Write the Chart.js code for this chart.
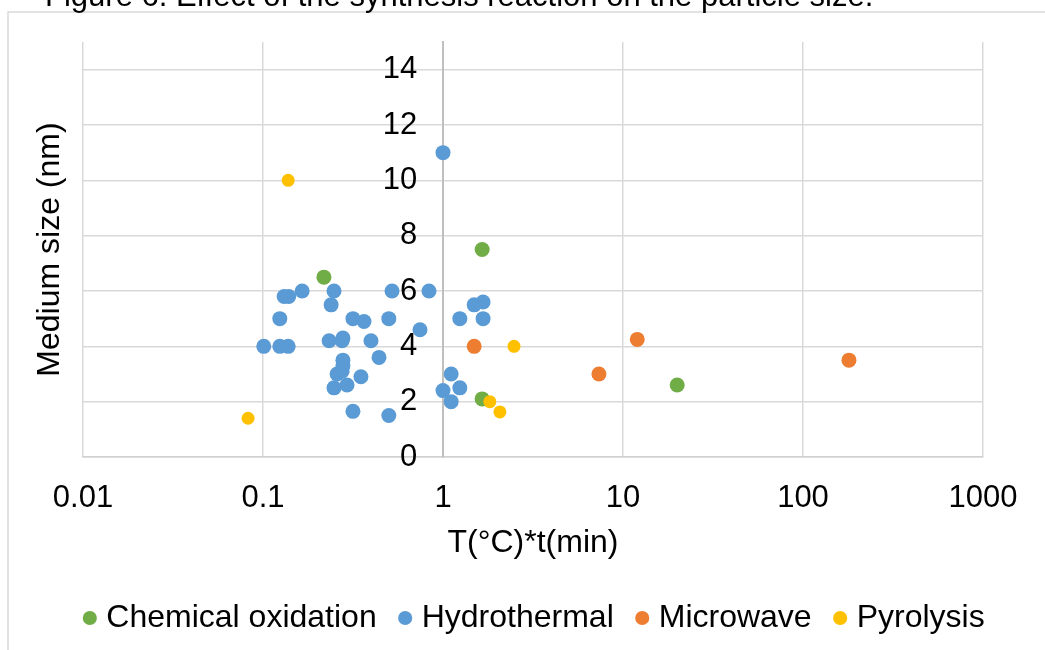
<!DOCTYPE html>
<html>
<head>
<meta charset="utf-8">
<script src="https://cdn.jsdelivr.net/npm/chart.js@4.4.1/dist/chart.umd.min.js"></script>
<style>
  html, body { margin: 0; padding: 0; background: #fff; }
  #wrap { width: 1045px; height: 650px; }
</style>
</head>
<body>
<div id="wrap"><canvas id="particle-size-chart"></canvas></div>
<script>
const FONT = "'Liberation Sans', Arial, sans-serif";

const figureCaption = "Figure 6. Effect of the synthesis reaction on the particle size.";
const xTitle = "T(°C)*t(min)";
const yTitle = "Medium size (nm)";

const seriesNames = ["Chemical oxidation", "Hydrothermal", "Microwave", "Pyrolysis"];
const seriesColors = ["#70ad47", "#5b9bd5", "#ed7d31", "#ffc000"];

const xTicks = [0.01, 0.1, 1, 10, 100, 1000];
const yTicks = [0, 2, 4, 6, 8, 10, 12, 14];

// values
const chemicalX = [0.218, 1.65, 1.65, 20];
const chemicalY = [6.5, 7.5, 2.1, 2.6];

const hydroX = [0.101, 0.124, 0.138, 0.124, 0.131, 0.139, 0.165, 0.248, 0.239, 0.316,
  0.364, 0.5, 0.521, 0.836, 0.745, 0.233, 0.278, 0.275, 0.398, 0.441,
  0.278, 0.278, 0.275, 0.258, 0.35, 0.248, 0.293, 0.316, 0.5, 1.0,
  1.49, 1.67, 1.24, 1.67, 1.11, 1.0, 1.24, 1.11];
const hydroY = [4.0, 4.0, 4.0, 5.0, 5.8, 5.8, 6.0, 6.0, 5.5, 5.0,
  4.9, 5.0, 6.0, 6.0, 4.6, 4.2, 4.3, 4.2, 4.2, 3.6,
  3.5, 3.3, 3.1, 3.0, 2.9, 2.5, 2.6, 1.65, 1.5, 11.0,
  5.5, 5.6, 5.0, 5.0, 3.0, 2.4, 2.5, 2.0];

const microwaveX = [1.49, 7.35, 12, 180];
const microwaveY = [4.0, 3.0, 4.25, 3.5];

const pyrolysisX = [0.0826, 0.138, 2.48, 1.82, 2.07];
const pyrolysisY = [1.4, 10.0, 4.0, 2.0, 1.63];

const toPoints = (xs, ys) => xs.map((x, i) => ({ x: x, y: ys[i] }));

const pageDecor = {
  id: "pageDecor",
  beforeDraw(chart) {
    const { ctx, chartArea } = chart;
    ctx.save();
    ctx.fillStyle = "#fff";
    ctx.fillRect(0, 0, chart.width, chart.height);
    ctx.strokeStyle = "#d9d9d9";
    ctx.lineWidth = 1.5;
    ctx.beginPath();
    ctx.moveTo(8, chart.height);
    ctx.lineTo(8, 12);
    ctx.lineTo(chart.width, 12);
    ctx.stroke();

    ctx.fillStyle = "#000";
    ctx.font = `31px ${FONT}`;
    ctx.textBaseline = "alphabetic";
    ctx.fillText(figureCaption, 45, 6);

    // y title sits at the far left, away from the axis at x = 1
    ctx.font = `32px ${FONT}`;
    ctx.translate(50, (chartArea.top + chartArea.bottom) / 2);
    ctx.rotate(-Math.PI / 2);
    ctx.textAlign = "center";
    ctx.textBaseline = "middle";
    ctx.fillText(yTitle, 0, 0);
    ctx.restore();
  }
};

// empty side boxes that only reserve room left and right of the plot
const spacer = width => ({
  type: "linear",
  display: true,
  ticks: { display: false },
  grid: { display: false },
  border: { display: false },
  afterFit: scale => {
    scale.width = width;
  },
});

const datasets = [
  { label: seriesNames[0], data: toPoints(chemicalX, chemicalY), order: 3, pointRadius: 7.5 },
  { label: seriesNames[1], data: toPoints(hydroX, hydroY), order: 2, pointRadius: 7.5 },
  { label: seriesNames[2], data: toPoints(microwaveX, microwaveY), order: 1, pointRadius: 7.5 },
  { label: seriesNames[3], data: toPoints(pyrolysisX, pyrolysisY), order: 0, pointRadius: 6.5 },
].map((d, i) => ({
  ...d,
  xAxisID: "x",
  yAxisID: "y",
  backgroundColor: seriesColors[i],
  borderColor: seriesColors[i],
  borderWidth: 0,
  pointHoverRadius: d.pointRadius,
}));

const config = {
  type: "scatter",
  data: { datasets: datasets },
  options: {
    responsive: false,
    animation: false,
    devicePixelRatio: 1,
    layout: {
      padding: { left: 29, right: 0, top: 42, bottom: 6 },
    },
    plugins: {
      legend: {
        position: "bottom",
        labels: {
          usePointStyle: true,
          pointStyle: "circle",
          boxWidth: 1,
          boxHeight: 10,
          padding: 28,
          color: "#000",
          font: { family: FONT, size: 32 },
          sort: (a, b) => a.datasetIndex - b.datasetIndex,
        },
      },
      tooltip: { enabled: false },
    },
    scales: {
      padL: { ...spacer(54), position: "left" },
      padR: { ...spacer(62), position: "right" },
      x: {
        type: "logarithmic",
        min: 0.01,
        max: 1000,
        afterBuildTicks: scale => {
          scale.ticks = xTicks.map(v => ({ value: v, major: true }));
        },
        afterFit: scale => {
          scale.height = 117;
        },
        grid: { color: "#d9d9d9", lineWidth: 1.5, drawTicks: false },
        border: { display: true, color: "#d0d0d0", width: 1.5 },
        ticks: {
          padding: 23,
          color: "#000",
          font: { family: FONT, size: 31 },
          maxRotation: 0,
          autoSkip: false,
          callback: value => String(value),
        },
        title: {
          display: true,
          text: xTitle,
          color: "#000",
          font: { family: FONT, size: 32 },
          padding: { top: 4, bottom: 12 },
        },
      },
      y: {
        type: "linear",
        position: { x: 1 },
        min: 0,
        max: 15,
        afterBuildTicks: scale => {
          scale.ticks = yTicks.map(v => ({ value: v }));
        },
        grid: { color: "#d9d9d9", lineWidth: 1.5, drawTicks: false },
        border: { display: true, color: "#bfbfbf", width: 2 },
        ticks: {
          color: "#000",
          font: { family: FONT, size: 31 },
          // labels are right-aligned on the x = 1 line; keep a gap before it
          callback: value => value + "   ",
        },
      },
    },
  },
  plugins: [pageDecor],
};

const canvas = document.getElementById("particle-size-chart");
canvas.width = 1045;
canvas.height = 650;
new Chart(canvas, config);
</script>
</body>
</html>
